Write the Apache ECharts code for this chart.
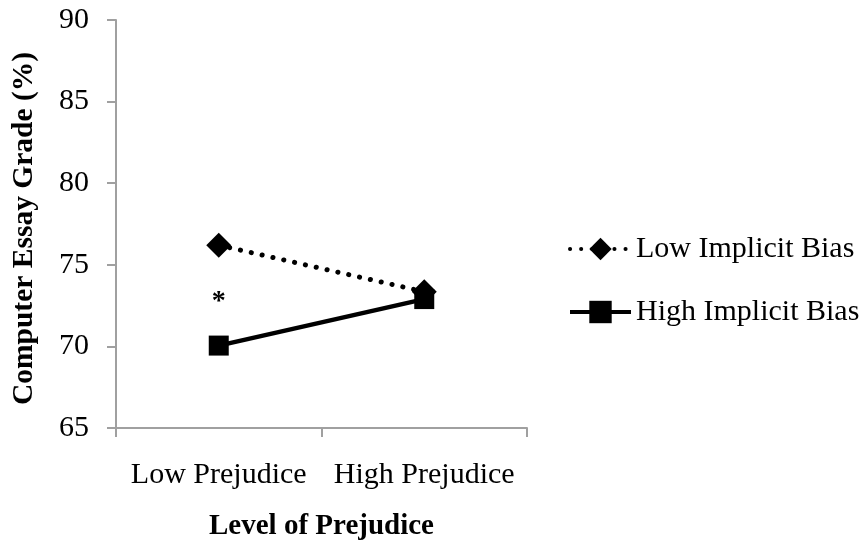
<!DOCTYPE html>
<html>
<head>
<meta charset="utf-8">
<script src="https://cdn.jsdelivr.net/npm/echarts@6/dist/echarts.min.js"></script>
<style>
html,body{margin:0;padding:0;background:#fff;}
#chart{width:867px;height:546px;}
</style>
</head>
<body>
<div id="chart"></div>
<script>
var categories = ['Low Prejudice', 'High Prejudice'];
var lowBiasValues = [76.2, 73.35];
var highBiasValues = [70.05, 72.9];
var seriesNames = ['Low Implicit Bias', 'High Implicit Bias'];
var yTicks = [65, 70, 75, 80, 85, 90];
var significanceMarks = [{ category: 'Low Prejudice', value: 73.0, text: '*' }];

var FONT = 'Liberation Serif';
var chart = echarts.init(document.getElementById('chart'), null, { renderer: 'canvas' });

var option = {
  animation: false,
  backgroundColor: '#ffffff',
  textStyle: { fontFamily: FONT, color: '#000' },
  grid: { left: 116, right: 340, top: 20, bottom: 118, containLabel: false, outerBoundsMode: 'none' },
  legend: {
    orient: 'vertical',
    left: 563,
    top: 229,
    itemWidth: 61,
    itemHeight: 28,
    itemGap: 33,
    lineStyle: { width: 4 },
    textStyle: { fontFamily: FONT, fontSize: 30, color: '#000' },
    data: seriesNames
  },
  xAxis: {
    type: 'category',
    data: categories,
    boundaryGap: true,
    name: 'Level of Prejudice',
    nameLocation: 'middle',
    nameGap: 84,
    nameTextStyle: { fontFamily: FONT, fontSize: 29, fontWeight: 'bold', color: '#000' },
    axisLine: { lineStyle: { color: '#a0a0a0', width: 2 } },
    axisTick: { show: true, length: 9, interval: 0, alignWithLabel: false, lineStyle: { color: '#a0a0a0', width: 2 } },
    axisLabel: { fontFamily: FONT, fontSize: 30, color: '#000', margin: 32, interval: 0, hideOverlap: false },
    splitLine: { show: false }
  },
  yAxis: {
    type: 'value',
    min: yTicks[0],
    max: yTicks[yTicks.length - 1],
    interval: yTicks[1] - yTicks[0],
    name: 'Computer Essay Grade (%)',
    nameLocation: 'middle',
    nameGap: 77,
    nameTextStyle: { fontFamily: FONT, fontSize: 29.5, fontWeight: 'bold', color: '#000', padding: [0, 9, 0, 0] },
    axisLine: { show: true, lineStyle: { color: '#a0a0a0', width: 2 } },
    axisTick: { show: true, length: 9, lineStyle: { color: '#a0a0a0', width: 2 } },
    axisLabel: { fontFamily: FONT, fontSize: 30, color: '#000', margin: 27 },
    splitLine: { show: false }
  },
  series: [
    {
      name: seriesNames[0],
      type: 'line',
      data: lowBiasValues,
      symbol: 'diamond',
      symbolSize: 25,
      itemStyle: { color: '#000' },
      lineStyle: { color: '#000', width: 5, type: [0.1, 11], cap: 'round' },
      z: 3
    },
    {
      name: seriesNames[1],
      type: 'line',
      data: highBiasValues,
      symbol: 'rect',
      symbolSize: 20,
      itemStyle: { color: '#000' },
      lineStyle: { color: '#000', width: 4.5, type: 'solid' },
      z: 4,
      markPoint: {
        symbol: 'circle',
        symbolSize: 1,
        itemStyle: { color: 'rgba(0,0,0,0)' },
        label: {
          show: true,
          position: 'inside',
          offset: [0, 4],
          fontFamily: FONT,
          fontSize: 28,
          fontWeight: 'bold',
          color: '#000',
          formatter: function (p) { return p.name; }
        },
        data: significanceMarks.map(function (m) {
          return { name: m.text, coord: [m.category, m.value] };
        })
      }
    }
  ]
};
chart.setOption(option);
</script>
</body>
</html>
